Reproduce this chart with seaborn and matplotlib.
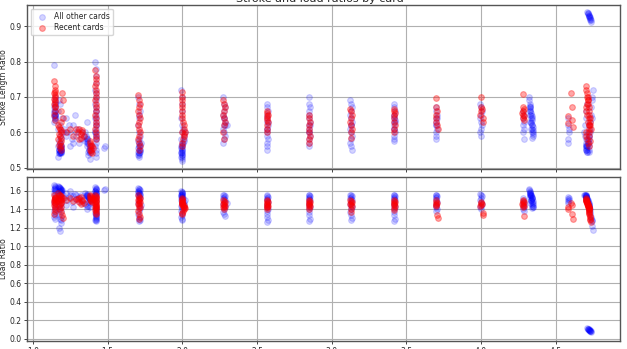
import matplotlib
matplotlib.use("Agg")
import matplotlib.pyplot as plt
import seaborn as sns
import pandas as pd

# ---------------- data: "All other cards" ----------------
other_x = [
    # 1.14
    1.14, 1.145, 1.15, 1.145, 1.14, 1.15, 1.145, 1.14, 1.15, 1.145, 1.14, 1.145, 1.15, 1.145, 1.14, 1.15, 1.145, 1.14, 1.15, 1.145,
    # 1.18
    1.17, 1.175, 1.18, 1.185, 1.19, 1.175, 1.18, 1.185, 1.17, 1.19, 1.18, 1.175, 1.185, 1.18, 1.19, 1.17, 1.18, 1.185, 1.175, 1.19,
    1.18, 1.185, 1.19, 1.175, 1.18, 1.17, 1.195, 1.18, 1.175, 1.18, 1.185, 1.19, 1.18, 1.175,
    # 1.20-1.36 scatter
    1.20, 1.21, 1.22, 1.23, 1.24, 1.25, 1.26, 1.27, 1.28, 1.29, 1.30, 1.31, 1.32, 1.33, 1.34, 1.22, 1.25, 1.27, 1.29, 1.36,
    # 1.37
    1.35, 1.355, 1.36, 1.365, 1.37, 1.375, 1.38, 1.385, 1.39, 1.36, 1.37, 1.38, 1.35, 1.365, 1.375, 1.385, 1.37, 1.38, 1.36, 1.39,
    1.375, 1.365,
    # 1.42
    1.415, 1.42, 1.425, 1.42, 1.415, 1.42, 1.425, 1.42, 1.415, 1.42, 1.425, 1.42, 1.415, 1.42, 1.425, 1.42, 1.415, 1.42, 1.425, 1.42,
    1.415, 1.42, 1.425, 1.42, 1.415, 1.42, 1.425, 1.42, 1.475, 1.48, 1.42, 1.42,
    # 1.71
    1.705, 1.71, 1.715, 1.71, 1.705, 1.71, 1.715, 1.71, 1.705, 1.71, 1.715, 1.71, 1.705, 1.71, 1.715, 1.71, 1.705, 1.71, 1.715, 1.71,
    1.705, 1.71, 1.715, 1.71, 1.72, 1.71,
    # 2.00
    1.99, 1.995, 2.0, 1.995, 1.99, 2.0, 1.995, 1.99, 2.0, 1.995, 1.99, 2.0, 1.995, 1.99, 2.0, 1.995, 1.99, 2.0, 1.995, 1.99,
    2.0, 2.005, 2.01, 2.015, 2.01, 2.005, 1.995, 2.0, 1.99, 1.995, 2.0, 2.01,
    # 2.28
    2.275, 2.28, 2.285, 2.28, 2.275, 2.28, 2.285, 2.28, 2.275, 2.28, 2.285, 2.28, 2.275, 2.28, 2.285, 2.30,
    # 2.57
    2.565, 2.57, 2.575, 2.57, 2.565, 2.57, 2.575, 2.57, 2.565, 2.57, 2.575, 2.57, 2.565, 2.57, 2.575, 2.57,
    # 2.85
    2.845, 2.85, 2.855, 2.85, 2.845, 2.85, 2.855, 2.85, 2.845, 2.85, 2.855, 2.85, 2.845, 2.85, 2.855, 2.85,
    # 3.13
    3.125, 3.13, 3.135, 3.13, 3.125, 3.13, 3.135, 3.13, 3.125, 3.13, 3.135, 3.13, 3.125, 3.13, 3.135, 3.13,
    # 3.42
    3.415, 3.42, 3.425, 3.42, 3.415, 3.42, 3.425, 3.42, 3.415, 3.42, 3.425, 3.42, 3.415, 3.42, 3.425, 3.42,
    # 3.70
    3.695, 3.70, 3.705, 3.70, 3.695, 3.70, 3.705, 3.70, 3.695, 3.70, 3.705, 3.70,
    # 4.00
    3.995, 4.0, 4.005, 4.0, 3.995, 4.0, 4.005, 4.0, 3.995, 4.0,
    # 4.33
    4.32, 4.32, 4.325, 4.325, 4.33, 4.33, 4.33, 4.335, 4.335, 4.34, 4.34, 4.34, 4.335, 4.335, 4.34, 4.345, 4.34, 4.345, 4.34, 4.345,
    4.345, 4.34, 4.33, 4.335, 4.34, 4.345, 4.325, 4.33, 4.335, 4.325,
    # 4.28
    4.28, 4.285, 4.28, 4.285, 4.28, 4.29, 4.28, 4.285,
    # 4.58
    4.58, 4.585, 4.59, 4.58, 4.585, 4.59,
    # 4.72
    4.69, 4.695, 4.70, 4.70, 4.705, 4.705, 4.71, 4.71, 4.71, 4.715, 4.715, 4.72, 4.72, 4.72, 4.725, 4.725, 4.73, 4.73, 4.735, 4.735,
    4.74, 4.745, 4.75, 4.70, 4.705, 4.71, 4.715, 4.72, 4.70, 4.705, 4.71, 4.695, 4.70, 4.705, 4.71, 4.715, 4.72, 4.725, 4.73, 4.74,
    # 4.72 outliers
    4.712, 4.715, 4.718, 4.72, 4.722, 4.725, 4.727, 4.73, 4.732, 4.735, 4.718, 4.722, 4.728, 4.733,
]
other_stroke = [
    0.79, 0.70, 0.69, 0.68, 0.67, 0.66, 0.66, 0.655, 0.65, 0.65, 0.645, 0.64, 0.64, 0.635, 0.63, 0.68, 0.67, 0.66, 0.65, 0.645,
    0.53, 0.54, 0.54, 0.545, 0.55, 0.55, 0.555, 0.56, 0.56, 0.565, 0.57, 0.575, 0.58, 0.59, 0.60, 0.61, 0.62, 0.545, 0.55, 0.555,
    0.56, 0.54, 0.55, 0.69, 0.68, 0.66, 0.64, 0.545, 0.54, 0.545, 0.55, 0.555, 0.56, 0.55,
    0.60, 0.61, 0.59, 0.60, 0.62, 0.60, 0.58, 0.62, 0.65, 0.59, 0.61, 0.57, 0.58, 0.60, 0.59, 0.64, 0.56, 0.57, 0.60, 0.63,
    0.60, 0.59, 0.58, 0.575, 0.57, 0.565, 0.56, 0.555, 0.55, 0.585, 0.545, 0.54, 0.575, 0.56, 0.55, 0.545, 0.535, 0.525, 0.57, 0.56,
    0.55, 0.58,
    0.80, 0.78, 0.76, 0.74, 0.72, 0.71, 0.70, 0.69, 0.68, 0.67, 0.66, 0.65, 0.64, 0.63, 0.62, 0.61, 0.60, 0.59, 0.58, 0.57,
    0.56, 0.55, 0.54, 0.53, 0.60, 0.62, 0.64, 0.66, 0.555, 0.56, 0.585, 0.595,
    0.70, 0.68, 0.66, 0.64, 0.62, 0.60, 0.59, 0.58, 0.575, 0.57, 0.565, 0.56, 0.555, 0.55, 0.545, 0.54, 0.535, 0.53, 0.55, 0.56,
    0.545, 0.54, 0.55, 0.535, 0.57, 0.65,
    0.72, 0.70, 0.68, 0.66, 0.64, 0.62, 0.60, 0.58, 0.57, 0.565, 0.56, 0.555, 0.55, 0.545, 0.54, 0.535, 0.53, 0.525, 0.52, 0.54,
    0.55, 0.57, 0.58, 0.60, 0.59, 0.61, 0.53, 0.545, 0.555, 0.56, 0.535, 0.575,
    0.70, 0.68, 0.67, 0.66, 0.65, 0.64, 0.63, 0.62, 0.61, 0.60, 0.59, 0.58, 0.57, 0.64, 0.62, 0.62,
    0.68, 0.67, 0.66, 0.65, 0.64, 0.63, 0.62, 0.61, 0.60, 0.59, 0.58, 0.57, 0.56, 0.55, 0.63, 0.61,
    0.70, 0.68, 0.67, 0.66, 0.65, 0.64, 0.63, 0.62, 0.61, 0.60, 0.59, 0.58, 0.57, 0.56, 0.62, 0.60,
    0.69, 0.68, 0.67, 0.66, 0.65, 0.64, 0.63, 0.62, 0.61, 0.60, 0.59, 0.58, 0.57, 0.56, 0.55, 0.62,
    0.68, 0.67, 0.66, 0.65, 0.645, 0.64, 0.635, 0.63, 0.62, 0.61, 0.60, 0.59, 0.58, 0.575, 0.63, 0.61,
    0.67, 0.66, 0.65, 0.64, 0.63, 0.62, 0.61, 0.60, 0.59, 0.58, 0.64, 0.62,
    0.68, 0.67, 0.66, 0.65, 0.64, 0.63, 0.62, 0.61, 0.60, 0.59,
    0.70, 0.69, 0.68, 0.675, 0.67, 0.665, 0.66, 0.655, 0.65, 0.645, 0.64, 0.635, 0.63, 0.625, 0.62, 0.615, 0.61, 0.605, 0.60, 0.595,
    0.59, 0.585, 0.66, 0.64, 0.62, 0.60, 0.65, 0.63, 0.61, 0.67,
    0.66, 0.65, 0.64, 0.63, 0.62, 0.61, 0.60, 0.58,
    0.64, 0.62, 0.60, 0.58, 0.57, 0.61,
    0.60, 0.59, 0.58, 0.57, 0.56, 0.55, 0.545, 0.55, 0.56, 0.57, 0.58, 0.56, 0.55, 0.545, 0.57, 0.59, 0.61, 0.63, 0.65, 0.67,
    0.69, 0.70, 0.72, 0.565, 0.555, 0.56, 0.575, 0.59, 0.55, 0.56, 0.545, 0.62, 0.64, 0.66, 0.68, 0.60, 0.62, 0.58, 0.60, 0.64,
    0.94, 0.938, 0.935, 0.932, 0.93, 0.927, 0.924, 0.92, 0.917, 0.913, 0.936, 0.93, 0.925, 0.918,
]
other_load = [
    1.66, 1.65, 1.64, 1.63, 1.62, 1.61, 1.60, 1.58, 1.56, 1.52, 1.48, 1.45, 1.42, 1.40, 1.38, 1.36, 1.34, 1.32, 1.30, 1.62,
    1.65, 1.64, 1.63, 1.62, 1.61, 1.60, 1.60, 1.59, 1.58, 1.57, 1.56, 1.55, 1.52, 1.50, 1.47, 1.44, 1.41, 1.38, 1.35, 1.32,
    1.30, 1.28, 1.25, 1.20, 1.17, 1.63, 1.61, 1.62, 1.64, 1.63, 1.61, 1.60, 1.45, 1.40,
    1.55, 1.52, 1.58, 1.50, 1.53, 1.56, 1.48, 1.54, 1.57, 1.51, 1.49, 1.53, 1.55, 1.47, 1.50, 1.45, 1.60, 1.42, 1.56, 1.44,
    1.58, 1.56, 1.55, 1.54, 1.53, 1.52, 1.51, 1.50, 1.49, 1.57, 1.48, 1.47, 1.46, 1.55, 1.53, 1.50, 1.44, 1.42, 1.40, 1.56,
    1.52, 1.54,
    1.64, 1.63, 1.62, 1.61, 1.60, 1.59, 1.58, 1.57, 1.56, 1.55, 1.52, 1.49, 1.46, 1.43, 1.40, 1.38, 1.36, 1.34, 1.32, 1.30,
    1.28, 1.27, 1.37, 1.33, 1.60, 1.62, 1.58, 1.35, 1.61, 1.62, 1.31, 1.29,
    1.63, 1.62, 1.61, 1.60, 1.59, 1.58, 1.57, 1.56, 1.55, 1.54, 1.52, 1.50, 1.47, 1.44, 1.41, 1.38, 1.35, 1.32, 1.29, 1.27,
    1.60, 1.58, 1.56, 1.62, 1.45, 1.30,
    1.60, 1.59, 1.58, 1.57, 1.56, 1.55, 1.54, 1.53, 1.52, 1.51, 1.50, 1.48, 1.46, 1.44, 1.42, 1.40, 1.38, 1.36, 1.34, 1.32,
    1.30, 1.47, 1.45, 1.50, 1.43, 1.52, 1.28, 1.57, 1.55, 1.59, 1.53, 1.48,
    1.56, 1.55, 1.54, 1.53, 1.52, 1.51, 1.50, 1.48, 1.46, 1.44, 1.42, 1.40, 1.37, 1.35, 1.33, 1.47,
    1.55, 1.54, 1.53, 1.52, 1.51, 1.50, 1.48, 1.46, 1.44, 1.42, 1.40, 1.38, 1.35, 1.32, 1.29, 1.26,
    1.56, 1.55, 1.54, 1.53, 1.52, 1.51, 1.50, 1.48, 1.46, 1.44, 1.42, 1.40, 1.37, 1.34, 1.30, 1.27,
    1.56, 1.55, 1.54, 1.53, 1.52, 1.51, 1.50, 1.48, 1.46, 1.44, 1.42, 1.40, 1.37, 1.34, 1.31, 1.28,
    1.56, 1.55, 1.54, 1.53, 1.52, 1.51, 1.50, 1.48, 1.46, 1.44, 1.42, 1.40, 1.37, 1.34, 1.30, 1.27,
    1.56, 1.55, 1.54, 1.53, 1.52, 1.50, 1.48, 1.46, 1.44, 1.42, 1.40, 1.38,
    1.57, 1.55, 1.54, 1.52, 1.50, 1.48, 1.46, 1.44, 1.42, 1.40,
    1.62, 1.61, 1.60, 1.59, 1.58, 1.57, 1.56, 1.55, 1.54, 1.53, 1.52, 1.51, 1.50, 1.49, 1.48, 1.47, 1.46, 1.45, 1.44, 1.43,
    1.42, 1.41, 1.58, 1.55, 1.52, 1.49, 1.56, 1.53, 1.50, 1.47,
    1.52, 1.50, 1.48, 1.46, 1.44, 1.42, 1.40, 1.38,
    1.53, 1.51, 1.50, 1.49, 1.47, 1.52,
    1.56, 1.55, 1.54, 1.53, 1.52, 1.51, 1.50, 1.49, 1.48, 1.47, 1.46, 1.45, 1.44, 1.43, 1.41, 1.39, 1.37, 1.35, 1.32, 1.30,
    1.27, 1.22, 1.18, 1.55, 1.53, 1.51, 1.49, 1.46, 1.54, 1.52, 1.50, 1.56, 1.55, 1.54, 1.52, 1.50, 1.47, 1.44, 1.40, 1.29,
    0.115, 0.11, 0.105, 0.10, 0.097, 0.093, 0.09, 0.085, 0.08, 0.075, 0.108, 0.098, 0.088, 0.078,
]

# ---------------- data: "Recent cards" ----------------
recent_x = [
    1.14, 1.145, 1.15, 1.145, 1.14, 1.15, 1.145, 1.14, 1.15, 1.145, 1.14, 1.145, 1.15, 1.145, 1.14, 1.15,
    1.17, 1.175, 1.18, 1.185, 1.19, 1.175, 1.18, 1.185, 1.17, 1.19, 1.18, 1.175, 1.185, 1.18, 1.19, 1.195, 1.20, 1.19, 1.20, 1.185,
    1.22, 1.25, 1.27, 1.30, 1.31, 1.32, 1.33, 1.34, 1.31, 1.33, 1.29, 1.32,
    1.38, 1.385, 1.39, 1.395, 1.40, 1.385, 1.39, 1.395, 1.38, 1.39,
    1.415, 1.42, 1.425, 1.42, 1.415, 1.42, 1.425, 1.42, 1.415, 1.42, 1.425, 1.42, 1.415, 1.42, 1.425, 1.42, 1.415, 1.42, 1.425, 1.42,
    1.705, 1.71, 1.715, 1.71, 1.705, 1.71, 1.715, 1.71, 1.705, 1.71, 1.715, 1.71, 1.705, 1.71, 1.715, 1.71,
    1.995, 2.0, 2.0, 1.995, 2.0, 2.0, 1.995, 2.0, 2.005, 2.01, 2.01, 2.015, 2.01, 2.005, 2.0, 1.995, 2.0, 2.01,
    2.275, 2.28, 2.285, 2.28, 2.275, 2.28, 2.285, 2.28, 2.275, 2.28,
    2.565, 2.57, 2.575, 2.57, 2.565, 2.57, 2.575, 2.57, 2.565, 2.57,
    2.845, 2.85, 2.855, 2.85, 2.845, 2.85, 2.855, 2.85, 2.85,
    3.125, 3.13, 3.135, 3.13, 3.125, 3.13, 3.135, 3.13, 3.13,
    3.415, 3.42, 3.425, 3.42, 3.415, 3.42, 3.425, 3.42, 3.42,
    3.70, 3.70, 3.705, 3.70, 3.695, 3.70, 3.705, 3.71,
    4.0, 4.0, 4.005, 4.0, 3.995, 4.01, 4.01,
    4.28, 4.28, 4.285, 4.28, 4.275, 4.28, 4.285, 4.28, 4.29,
    4.60, 4.61, 4.585, 4.58, 4.61, 4.615,
    4.70, 4.705, 4.71, 4.71, 4.715, 4.715, 4.72, 4.72, 4.725, 4.725, 4.73, 4.73, 4.735, 4.70, 4.705, 4.71, 4.715, 4.72, 4.725, 4.73,
    4.705, 4.71, 4.715, 4.72, 4.725, 4.71, 4.715, 4.72, 4.705, 4.715, 4.72, 4.73,
]
recent_stroke = [
    0.745, 0.73, 0.72, 0.715, 0.71, 0.705, 0.70, 0.695, 0.69, 0.685, 0.68, 0.675, 0.67, 0.66, 0.65, 0.635,
    0.62, 0.615, 0.61, 0.605, 0.60, 0.595, 0.59, 0.585, 0.58, 0.575, 0.57, 0.565, 0.56, 0.555, 0.55, 0.71, 0.69, 0.66, 0.64, 0.63,
    0.60, 0.61, 0.59, 0.60, 0.61, 0.595, 0.605, 0.59, 0.58, 0.60, 0.61, 0.585,
    0.575, 0.57, 0.565, 0.56, 0.555, 0.55, 0.545, 0.54, 0.56, 0.55,
    0.775, 0.76, 0.75, 0.74, 0.73, 0.72, 0.71, 0.70, 0.69, 0.68, 0.67, 0.66, 0.65, 0.64, 0.63, 0.62, 0.61, 0.60, 0.59, 0.58,
    0.705, 0.69, 0.68, 0.67, 0.66, 0.65, 0.64, 0.63, 0.62, 0.61, 0.60, 0.59, 0.58, 0.57, 0.56, 0.55,
    0.715, 0.70, 0.69, 0.68, 0.67, 0.66, 0.65, 0.64, 0.63, 0.62, 0.61, 0.60, 0.59, 0.58, 0.57, 0.56, 0.60, 0.595,
    0.69, 0.68, 0.67, 0.66, 0.65, 0.64, 0.63, 0.62, 0.60, 0.58,
    0.66, 0.655, 0.65, 0.645, 0.64, 0.635, 0.63, 0.62, 0.61, 0.60,
    0.65, 0.64, 0.63, 0.62, 0.61, 0.60, 0.59, 0.58, 0.57,
    0.665, 0.66, 0.65, 0.64, 0.63, 0.62, 0.61, 0.60, 0.585,
    0.665, 0.66, 0.655, 0.65, 0.64, 0.63, 0.62, 0.61, 0.60,
    0.697, 0.67, 0.66, 0.65, 0.64, 0.63, 0.62, 0.61,
    0.70, 0.67, 0.665, 0.66, 0.65, 0.64, 0.63,
    0.708, 0.67, 0.665, 0.66, 0.655, 0.65, 0.645, 0.64, 0.635,
    0.71, 0.67, 0.645, 0.625, 0.635, 0.615,
    0.73, 0.72, 0.71, 0.70, 0.69, 0.68, 0.67, 0.66, 0.65, 0.64, 0.63, 0.62, 0.61, 0.60, 0.59, 0.58, 0.57, 0.56, 0.62, 0.64,
    0.66, 0.68, 0.70, 0.60, 0.62, 0.65, 0.63, 0.61, 0.67, 0.69, 0.59, 0.575,
]
recent_load = [
    1.55, 1.53, 1.52, 1.51, 1.50, 1.50, 1.49, 1.48, 1.47, 1.46, 1.45, 1.42, 1.40, 1.38, 1.35, 1.52,
    1.58, 1.56, 1.55, 1.54, 1.53, 1.52, 1.51, 1.50, 1.49, 1.48, 1.46, 1.44, 1.42, 1.40, 1.37, 1.34, 1.31, 1.50, 1.52, 1.47,
    1.50, 1.52, 1.49, 1.51, 1.48, 1.53, 1.50, 1.47, 1.52, 1.49, 1.51, 1.46,
    1.55, 1.54, 1.53, 1.52, 1.51, 1.50, 1.49, 1.48, 1.52, 1.50,
    1.55, 1.54, 1.53, 1.52, 1.51, 1.50, 1.49, 1.48, 1.47, 1.46, 1.45, 1.44, 1.43, 1.42, 1.41, 1.40, 1.39, 1.38, 1.36, 1.35,
    1.55, 1.53, 1.52, 1.51, 1.50, 1.49, 1.48, 1.47, 1.46, 1.45, 1.43, 1.41, 1.38, 1.35, 1.32, 1.30,
    1.52, 1.51, 1.50, 1.49, 1.48, 1.47, 1.46, 1.45, 1.44, 1.43, 1.42, 1.41, 1.40, 1.38, 1.36, 1.35, 1.47, 1.45,
    1.50, 1.49, 1.48, 1.47, 1.46, 1.45, 1.44, 1.43, 1.42, 1.40,
    1.50, 1.49, 1.48, 1.47, 1.46, 1.45, 1.44, 1.43, 1.42, 1.40,
    1.50, 1.49, 1.48, 1.47, 1.46, 1.45, 1.44, 1.42, 1.40,
    1.50, 1.49, 1.48, 1.47, 1.46, 1.45, 1.44, 1.40, 1.37,
    1.50, 1.49, 1.48, 1.47, 1.46, 1.45, 1.44, 1.41, 1.39,
    1.50, 1.48, 1.47, 1.46, 1.45, 1.44, 1.34, 1.31,
    1.48, 1.47, 1.46, 1.45, 1.44, 1.36, 1.34,
    1.50, 1.49, 1.48, 1.47, 1.46, 1.45, 1.44, 1.43, 1.33,
    1.47, 1.45, 1.42, 1.40, 1.35, 1.30,
    1.52, 1.50, 1.48, 1.47, 1.45, 1.44, 1.42, 1.40, 1.38, 1.36, 1.33, 1.30, 1.26, 1.51, 1.49, 1.47, 1.44, 1.41, 1.37, 1.32,
    1.50, 1.46, 1.43, 1.39, 1.35, 1.48, 1.45, 1.43, 1.49, 1.46, 1.40, 1.28,
]

series_labels = ["All other cards", "Recent cards"]
x_ticks = [1.0, 1.5, 2.0, 2.5, 3.0, 3.5, 4.0, 4.5]
stroke_ticks = [0.5, 0.6, 0.7, 0.8, 0.9]
load_ticks = [0.0, 0.2, 0.4, 0.6, 0.8, 1.0, 1.2, 1.4, 1.6]

assert len(other_x) == len(other_stroke) == len(other_load), (len(other_x), len(other_stroke), len(other_load))
assert len(recent_x) == len(recent_stroke) == len(recent_load), (len(recent_x), len(recent_stroke), len(recent_load))

other = pd.DataFrame({"x": other_x, "stroke": other_stroke, "load": other_load})
recent = pd.DataFrame({"x": recent_x, "stroke": recent_stroke, "load": recent_load})

sns.set_style("ticks")
plt.rcParams["font.family"] = ["DejaVu Sans"]

fig = plt.figure(figsize=(6.27, 3.49), dpi=100)
ax1 = fig.add_axes([27 / 627, 1 - 169 / 349, (620 - 27) / 627, (169 - 5) / 349])
ax2 = fig.add_axes([27 / 627, 1 - 341 / 349, (620 - 27) / 627, (341 - 177) / 349], sharex=ax1)

for ax, col in ((ax1, "stroke"), (ax2, "load")):
    sns.scatterplot(data=other, x="x", y=col, ax=ax, color="blue", alpha=0.17, s=17,
                    edgecolor="blue", linewidth=0.8, label=series_labels[0])
    sns.scatterplot(data=recent, x="x", y=col, ax=ax, color="red", alpha=0.35, s=17,
                    edgecolor="red", linewidth=0.8, label=series_labels[1])
    ax.grid(True, color="#b0b0b0", linewidth=0.8)
    ax.set_axisbelow(True)
    ax.tick_params(labelsize=5.5, length=2.5, width=0.6, pad=1.5)
    for sp in ax.spines.values():
        sp.set_color("#555555")
        sp.set_linewidth(1.0)
    ax.set_xlabel("")

ax1.set_xlim(0.96, 4.93)
ax1.set_xticks(x_ticks)
ax1.set_ylim(0.496, 0.96)
ax1.set_yticks(stroke_ticks)
ax2.set_ylim(-0.025, 1.75)
ax2.set_yticks(load_ticks)
ax1.tick_params(labelbottom=False)
ax1.set_ylabel("Stroke Length Ratio", fontsize=5.5, labelpad=1)
ax2.set_ylabel("Load Ratio", fontsize=5.5, labelpad=1)

ax2.get_legend().remove()
leg = ax1.legend(loc="upper left", fontsize=5.5, frameon=True, borderpad=0.4,
                 handletextpad=0.6, labelspacing=0.3, markerscale=1.0)

fig.text(0.51, 1 - 2.5 / 349, "Stroke and load ratios by card", ha="center", va="baseline", fontsize=8)

fig.savefig("out.png", dpi=100)
